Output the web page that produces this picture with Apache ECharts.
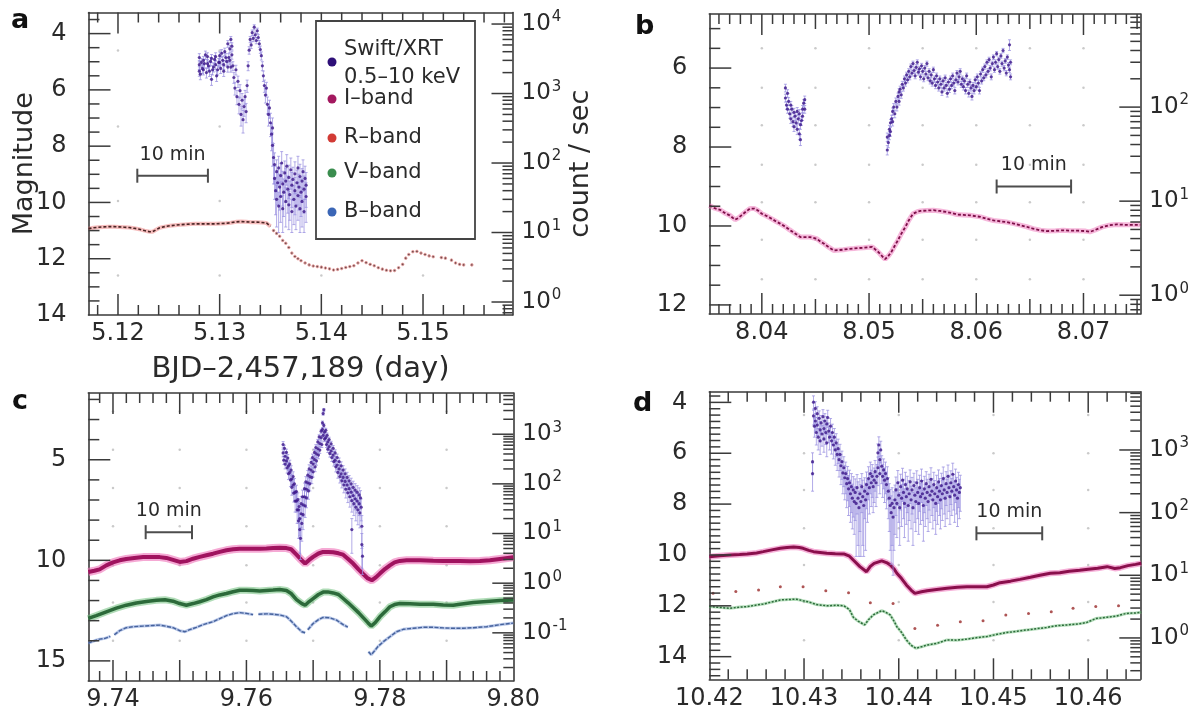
<!DOCTYPE html>
<html>
<head>
<meta charset="utf-8">
<title>Optical and X-ray light curves</title>
<script src="https://cdn.jsdelivr.net/npm/echarts@6.0.0/dist/echarts.min.js"></script>
<style>
html, body { margin: 0; padding: 0; background: #ffffff; }
#chart { width: 1193px; height: 718px; }
</style>
</head>
<body>
<div id="chart"></div>
<script>
// ---------------- text ----------------
const panelLetters = ['a', 'b', 'c', 'd'];
const legendNames = [['Swift/XRT', '0.5–10 keV'], ['I–band'], ['R–band'], ['V–band'], ['B–band']];
const xAxisName = 'BJD–2,457,189 (day)';
const magAxisName = 'Magnitude';
const rateAxisName = 'count / sec';
const scaleBarText = '10 min';
const scaleBarMinutes = 10;

// ---------------- panel a ----------------
// Swift/XRT: [BJD, count/sec, error]
const xrtA = [
  [5.1280,2600,380],[5.1280,3300,450],[5.1280,2100,330],[5.1281,1900,320],[5.1282,2800,400],[5.1283,2300,360],
  [5.1284,3000,420],[5.1284,2200,350],[5.1285,2700,390],[5.1286,3600,480],[5.1287,2000,330],[5.1288,3400,460],
  [5.1288,2700,390],[5.1289,2500,370],[5.1290,2100,340],[5.1291,2900,410],[5.1292,1600,290],[5.1292,3200,440],
  [5.1293,2200,350],[5.1294,2400,360],[5.1295,3100,430],[5.1296,2600,380],[5.1296,3400,460],[5.1297,1800,310],
  [5.1298,2200,350],[5.1299,2800,400],[5.1300,3500,470],[5.1300,2800,400],[5.1301,2300,360],[5.1302,3800,490],
  [5.1303,3000,420],[5.1304,2600,380],[5.1304,2100,340],[5.1305,4000,500],[5.1306,3300,450],[5.1307,2900,410],
  [5.1308,5200,580],[5.1308,2400,370],[5.1309,3300,450],[5.1310,4400,530],[5.1310,3000,420],[5.1311,6000,620],
  [5.1311,2400,370],[5.1312,3600,480],[5.1312,4800,560],[5.1313,2500,370],[5.1314,1700,300],[5.1315,1200,250],
  [5.1316,2200,350],[5.1317,900,210],[5.1318,1500,280],[5.1319,700,190],[5.1320,1100,240],[5.1321,500,160],
  [5.1322,800,200],[5.1323,420,150],[5.1324,650,180],[5.1325,900,210],[5.1326,550,170],[5.1327,1300,260],
  [5.1328,2500,370],[5.1329,4200,520],[5.1330,6000,620],[5.1331,5000,560],[5.1332,7500,700],[5.1333,6200,630],
  [5.1334,9000,760],[5.1335,7000,670],[5.1336,5800,610],[5.1337,8000,720],[5.1338,6400,640],[5.1339,5200,580],
  [5.1340,4300,520],[5.1341,3500,470],[5.1342,2500,370],[5.1343,1800,310],[5.1344,1300,260],[5.1345,950,220],
  [5.1346,1200,250],[5.1347,700,190],[5.1348,500,160],[5.1349,620,180],[5.1350,380,140],[5.1351,260,110],
  [5.1352,320,125],[5.1352,180,90],[5.1353,120,70],
  [5.1354,95,45],[5.1354,60,30],[5.1355,40,22],[5.1356,75,36],[5.1356,30,18],[5.1357,52,27],[5.1358,85,40],
  [5.1358,24,14],[5.1359,45,24],[5.1360,66,33],[5.1360,33,19],[5.1361,100,46],[5.1362,50,26],[5.1362,22,12],
  [5.1363,38,21],[5.1364,72,35],[5.1365,28,16],[5.1365,55,28],[5.1366,90,42],[5.1367,42,23],[5.1368,25,14],
  [5.1368,62,31],[5.1369,35,20],[5.1370,80,38],[5.1371,48,25],[5.1371,20,10],[5.1372,58,29],[5.1373,30,17],
  [5.1374,70,34],[5.1374,40,22],[5.1375,24,13],[5.1376,52,27],[5.1377,85,40],[5.1377,34,19],[5.1378,45,24],
  [5.1379,22,12],[5.1379,64,32],[5.1380,38,21],[5.1381,55,28],[5.1381,28,16],[5.1382,75,36],[5.1383,42,23],
  [5.1383,20,10],[5.1384,60,30],[5.1385,33,19],[5.1385,48,25]
];
// R-band: [BJD, magnitude]
const rBandA = [
  [5.1171,10.93],[5.1176,10.90],[5.1181,10.88],[5.1186,10.87],[5.1191,10.86],[5.1196,10.86],[5.1201,10.87],
  [5.1206,10.88],[5.1211,10.89],[5.1216,10.92],[5.1221,10.95],[5.1226,11.00],[5.1231,11.04],[5.1234,11.04],
  [5.1237,10.98],[5.1241,10.90],[5.1246,10.86],[5.1251,10.83],[5.1256,10.81],[5.1261,10.79],[5.1266,10.78],
  [5.1271,10.77],[5.1276,10.76],[5.1281,10.76],[5.1286,10.76],[5.1291,10.76],[5.1296,10.76],[5.1301,10.75],
  [5.1306,10.74],[5.1311,10.72],[5.1316,10.69],[5.1321,10.68],[5.1326,10.69],[5.1331,10.70],[5.1336,10.70],
  [5.1341,10.71],[5.1346,10.73],[5.1350,10.85]
];
const rBandSparseA = [
  [5.1353,11.00],[5.1356,11.10],[5.1359,11.20],[5.1362,11.35],[5.1365,11.45],[5.1368,11.60],[5.1371,11.80],
  [5.1374,11.92],[5.1377,12.00],[5.1380,12.07],[5.1384,12.15],[5.1388,12.22],[5.1392,12.26],[5.1396,12.28],
  [5.1400,12.30],[5.1404,12.33],[5.1408,12.36],[5.1412,12.40],[5.1416,12.38],[5.1420,12.35],[5.1424,12.31],
  [5.1428,12.28],[5.1432,12.25],[5.1436,12.15],[5.1440,12.07],[5.1444,12.14],[5.1448,12.20],[5.1452,12.25],
  [5.1456,12.32],[5.1460,12.37],[5.1464,12.41],[5.1468,12.43],[5.1472,12.42],[5.1476,12.32],[5.1480,12.20],
  [5.1483,11.98],[5.1486,11.85],[5.1490,11.75],[5.1494,11.74],[5.1498,11.80],[5.1502,11.85],[5.1506,11.90],
  [5.1510,11.93],[5.1518,11.96],[5.1522,11.98],[5.1528,12.05],[5.1532,12.15],[5.1536,12.20],[5.1540,12.22],
  [5.1548,12.22]
];

// ---------------- panel b ----------------
const xrtB = [
  [8.0422,160,15],[8.0422,125,12],[8.0423,105,10],[8.0424,140,13],[8.0424,95,9],[8.0425,115,11],[8.0426,85,9],
  [8.0427,105,10],[8.0427,75,8],[8.0428,95,9],[8.0429,70,8],[8.0430,88,9],[8.0430,62,7],[8.0431,80,8],
  [8.0432,68,7],[8.0433,90,9],[8.0433,58,7],[8.0434,75,8],[8.0435,52,7],[8.0435,85,9],[8.0436,45,6],
  [8.0436,65,7],[8.0437,72,8],[8.0438,95,9],[8.0438,80,8],[8.0439,110,10],[8.0440,120,11],[8.0440,95,9],
  [8.0517,35,4],[8.0517,48,5],[8.0518,42,5],[8.0519,58,6],[8.0519,50,5],[8.0520,68,6],[8.0520,55,6],
  [8.0521,75,7],[8.0522,90,8],[8.0522,70,7],[8.0523,100,9],[8.0524,85,8],[8.0525,115,10],[8.0526,100,9],
  [8.0527,130,11],[8.0528,145,12],[8.0528,115,10],[8.0529,155,12],[8.0530,135,11],[8.0531,175,13],
  [8.0532,160,12],[8.0533,200,14],[8.0534,180,13],[8.0535,220,15],[8.0536,195,14],[8.0537,240,16],
  [8.0538,210,15],[8.0539,270,17],[8.0540,230,16],[8.0541,290,18],[8.0542,245,16],[8.0543,215,15],
  [8.0544,265,17],[8.0545,300,18],[8.0546,235,16],[8.0547,255,16],[8.0548,210,15],[8.0549,275,17],
  [8.0550,240,16],[8.0551,200,14],[8.0552,260,17],[8.0553,225,15],[8.0554,290,18],[8.0555,205,14],
  [8.0556,240,16],[8.0557,190,14],[8.0558,220,15],[8.0559,180,13],[8.0560,250,16],[8.0561,200,14],
  [8.0562,170,13],[8.0563,215,15],[8.0564,185,13],[8.0565,160,12],[8.0566,200,14],[8.0567,175,13],
  [8.0568,145,12],[8.0569,190,14],[8.0570,160,12],[8.0571,205,14],[8.0572,170,13],[8.0573,140,12],
  [8.0574,185,13],[8.0575,155,12],[8.0576,200,14],[8.0577,170,13],[8.0578,215,15],[8.0579,180,13],
  [8.0580,150,12],[8.0581,195,14],[8.0582,230,15],[8.0583,185,13],[8.0584,210,15],[8.0585,240,16],
  [8.0586,175,13],[8.0587,200,14],[8.0588,165,13],[8.0589,190,14],[8.0590,150,12],[8.0591,215,15],
  [8.0592,175,13],[8.0593,140,12],[8.0594,185,13],[8.0595,160,12],[8.0596,130,11],[8.0597,170,13],
  [8.0598,150,12],[8.0599,195,14],[8.0600,165,13],[8.0601,210,15],[8.0602,180,13],[8.0603,150,12],
  [8.0604,225,15],[8.0605,190,14],[8.0606,250,16],[8.0607,205,14],[8.0608,270,17],[8.0609,220,15],
  [8.0610,300,18],[8.0611,240,16],[8.0612,320,19],[8.0613,260,17],[8.0614,210,15],[8.0615,290,18],
  [8.0616,340,19],[8.0617,250,16],[8.0618,300,18],[8.0619,370,20],[8.0620,270,17],[8.0621,320,19],
  [8.0622,240,16],[8.0623,350,20],[8.0624,290,18],[8.0625,400,21],[8.0626,260,17],[8.0627,310,18],
  [8.0628,230,15],[8.0629,340,19],[8.0630,280,17],[8.0631,460,60],[8.0631,250,16],[8.0632,300,18],
  [8.0632,210,15]
];
const iBandB = [
  [8.0351,9.48],[8.0356,9.55],[8.0361,9.59],[8.0366,9.68],[8.0370,9.73],[8.0375,9.84],[8.0378,9.80],
  [8.0381,9.73],[8.0385,9.64],[8.0389,9.56],[8.0393,9.56],[8.0396,9.60],[8.0400,9.69],[8.0404,9.74],
  [8.0408,9.80],[8.0413,9.88],[8.0417,9.94],[8.0422,10.02],[8.0426,10.10],[8.0431,10.19],[8.0436,10.28],
  [8.0441,10.28],[8.0445,10.28],[8.0451,10.32],[8.0455,10.40],[8.0458,10.45],[8.0462,10.53],[8.0467,10.62],
  [8.0472,10.61],[8.0476,10.60],[8.0481,10.58],[8.0486,10.57],[8.0490,10.56],[8.0495,10.55],[8.0499,10.54],
  [8.0503,10.53],[8.0506,10.60],[8.0509,10.67],[8.0512,10.76],[8.0515,10.84],[8.0518,10.76],[8.0521,10.65],
  [8.0524,10.50],[8.0527,10.36],[8.0530,10.20],[8.0534,10.02],[8.0537,9.86],[8.0541,9.69],[8.0545,9.64],
  [8.0548,9.62],[8.0553,9.61],[8.0560,9.60],[8.0566,9.62],[8.0573,9.65],[8.0578,9.68],[8.0582,9.71],
  [8.0588,9.72],[8.0594,9.73],[8.0599,9.75],[8.0604,9.77],[8.0610,9.82],[8.0616,9.86],[8.0622,9.88],
  [8.0628,9.90],[8.0635,9.94],[8.0641,9.98],[8.0647,10.02],[8.0653,10.07],[8.0660,10.11],[8.0666,10.13],
  [8.0674,10.12],[8.0681,10.11],[8.0688,10.12],[8.0695,10.12],[8.0702,10.13],[8.0706,10.15],[8.0711,10.10],
  [8.0717,10.03],[8.0724,9.98],[8.0731,9.96],[8.0738,9.97],[8.0745,9.97],[8.0753,9.97]
];

// ---------------- panel c ----------------
const xrtC = [
  [9.7655,620,90],[9.7655,420,70],[9.7656,300,55],[9.7657,520,80],[9.7658,360,60],[9.7658,250,50],
  [9.7660,430,70],[9.7660,290,55],[9.7661,210,45],[9.7662,330,60],[9.7663,230,45],[9.7663,160,38],
  [9.7665,250,50],[9.7665,170,40],[9.7666,120,32],[9.7667,190,42],[9.7668,125,32],[9.7668,85,26],
  [9.7670,140,35],[9.7670,95,28],[9.7671,65,22],[9.7672,100,28],[9.7673,68,22],[9.7673,45,18],
  [9.7675,70,24],[9.7675,45,18],[9.7676,30,14],[9.7677,48,18],[9.7678,30,14],[9.7678,18,10],
  [9.7679,35,15],[9.7680,20,11],[9.7680,12,8],[9.7681,8,5],[9.7682,40,16],[9.7682,25,12],[9.7683,16,9],
  [9.7684,55,20],[9.7685,38,16],[9.7685,24,12],[9.7687,80,24],[9.7687,55,20],[9.7688,36,15],
  [9.7689,110,30],[9.7690,78,24],[9.7690,52,19],[9.7692,150,36],[9.7692,105,28],[9.7693,72,23],
  [9.7694,200,42],[9.7695,140,34],[9.7695,100,28],[9.7697,270,50],[9.7697,190,40],[9.7698,135,34],
  [9.7699,340,58],[9.7700,250,48],[9.7700,175,38],[9.7702,430,66],[9.7702,310,54],[9.7703,220,44],
  [9.7704,540,75],[9.7705,400,62],[9.7705,290,52],[9.7707,700,85],[9.7707,510,72],[9.7708,380,60],
  [9.7709,880,95],[9.7710,650,80],[9.7710,480,70],[9.7712,1150,110],[9.7712,850,95],[9.7713,620,80],
  [9.7714,1700,140],[9.7714,1250,115],[9.7715,2600,180],[9.7715,950,100],[9.7716,3100,200],
  [9.7716,1500,130],[9.7717,1100,110],[9.7717,800,90],[9.7719,1200,115],[9.7719,850,95],[9.7720,620,80],
  [9.7721,950,100],[9.7722,700,85],[9.7722,500,72],[9.7724,780,90],[9.7724,560,75],[9.7725,410,64],
  [9.7727,640,80],[9.7727,460,68],[9.7728,340,58],[9.7730,520,72],[9.7730,380,62],[9.7731,280,52],
  [9.7733,420,65],[9.7733,300,55],[9.7734,220,46],[9.7736,340,58],[9.7736,240,48],[9.7737,170,40],
  [9.7739,280,52],[9.7739,200,44],[9.7740,140,36],[9.7742,230,48],[9.7742,160,40],[9.7743,115,32],
  [9.7745,190,43],[9.7745,135,36],[9.7746,95,29],[9.7748,160,40],[9.7748,112,32],[9.7749,78,26],
  [9.7751,135,36],[9.7751,95,29],[9.7752,66,24],[9.7754,115,32],[9.7754,80,26],[9.7755,55,21],
  [9.7757,100,30],[9.7757,68,24],[9.7758,46,19],[9.7758,12,8],[9.7760,85,28],[9.7760,58,22],
  [9.7761,40,17],[9.7763,75,26],[9.7763,50,20],[9.7764,34,16],[9.7766,68,24],[9.7766,45,19],
  [9.7767,30,15],[9.7769,60,23],[9.7769,40,17],[9.7770,26,13],[9.7771,52,21],[9.7772,34,16],
  [9.7773,14,9],[9.7773,6,4],[9.7774,3.5,2]
];
const iBandC = [
  [9.7363,10.58],[9.7372,10.52],[9.7380,10.45],[9.7390,10.25],[9.7400,10.10],[9.7410,10.00],[9.7420,9.93],
  [9.7432,9.88],[9.7445,9.84],[9.7458,9.83],[9.7470,9.84],[9.7480,9.88],[9.7490,9.98],[9.7500,10.08],
  [9.7510,10.04],[9.7520,9.92],[9.7530,9.83],[9.7540,9.75],[9.7550,9.67],[9.7560,9.58],[9.7570,9.50],
  [9.7580,9.45],[9.7590,9.42],[9.7600,9.42],[9.7610,9.43],[9.7620,9.42],[9.7630,9.41],[9.7640,9.39],
  [9.7650,9.37],[9.7660,9.39],[9.7667,9.45],[9.7675,9.72],[9.7682,9.97],[9.7688,10.16],[9.7694,9.98],
  [9.7700,9.83],[9.7708,9.66],[9.7715,9.58],[9.7723,9.58],[9.7730,9.60],[9.7738,9.65],[9.7745,9.72],
  [9.7752,9.92],[9.7760,10.16],[9.7768,10.45],[9.7775,10.68],[9.7782,10.90],[9.7788,10.99],[9.7794,10.85],
  [9.7800,10.66],[9.7808,10.42],[9.7815,10.25],[9.7822,10.10],[9.7830,10.03],[9.7840,10.00],[9.7850,10.00],
  [9.7860,10.00],[9.7870,10.01],[9.7880,10.02],[9.7895,10.03],[9.7910,10.03],[9.7920,10.03],[9.7935,10.05],
  [9.7950,10.03],[9.7965,10.00],[9.7980,9.93],[9.8000,9.85]
];
const vBandC = [
  [9.7363,12.89],[9.7375,12.75],[9.7390,12.56],[9.7405,12.38],[9.7420,12.23],[9.7435,12.12],[9.7450,12.05],
  [9.7465,11.99],[9.7478,11.96],[9.7490,12.03],[9.7500,12.15],[9.7510,12.23],[9.7520,12.15],[9.7530,12.06],
  [9.7540,11.95],[9.7550,11.82],[9.7560,11.72],[9.7570,11.65],[9.7580,11.56],[9.7590,11.49],[9.7600,11.49],
  [9.7610,11.50],[9.7620,11.52],[9.7630,11.50],[9.7640,11.48],[9.7650,11.45],[9.7660,11.50],[9.7667,11.65],
  [9.7675,11.95],[9.7683,12.15],[9.7688,12.23],[9.7694,12.05],[9.7700,11.90],[9.7708,11.70],[9.7715,11.58],
  [9.7722,11.57],[9.7730,11.62],[9.7738,11.70],[9.7745,11.90],[9.7752,12.10],[9.7760,12.35],[9.7768,12.60],
  [9.7775,12.85],[9.7782,13.10],[9.7787,13.27],[9.7793,13.10],[9.7800,12.81],[9.7808,12.55],[9.7815,12.31],
  [9.7822,12.20],[9.7830,12.15],[9.7845,12.16],[9.7860,12.18],[9.7880,12.18],[9.7895,12.22],[9.7910,12.23],
  [9.7920,12.18],[9.7940,12.10],[9.7960,12.05],[9.7980,12.00],[9.8000,11.97]
];
// null marks a gap in the B-band coverage
const bBandC = [
  [9.7363,14.12],[9.7372,14.00],[9.7380,13.92],[9.7388,13.88],[9.7396,13.78],null,[9.7402,13.70],
  [9.7410,13.50],[9.7420,13.35],[9.7430,13.30],[9.7445,13.27],[9.7460,13.24],[9.7470,13.22],[9.7480,13.28],
  [9.7490,13.35],[9.7500,13.50],[9.7508,13.55],[9.7515,13.45],[9.7525,13.33],[9.7535,13.20],[9.7550,13.05],
  [9.7560,12.90],[9.7570,12.75],[9.7580,12.65],[9.7590,12.60],[9.7600,12.64],[9.7610,12.70],null,
  [9.7618,12.68],[9.7630,12.66],[9.7640,12.68],[9.7650,12.72],[9.7660,12.80],[9.7668,13.05],[9.7675,13.30],
  [9.7683,13.55],[9.7688,13.60],null,[9.7692,13.45],[9.7700,13.14],[9.7708,12.95],[9.7715,12.84],
  [9.7725,12.86],[9.7735,12.97],[9.7745,13.20],[9.7752,13.32],null,[9.7770,13.96],null,[9.7783,14.55],
  [9.7787,14.70],[9.7792,14.50],[9.7797,14.29],[9.7805,14.05],[9.7815,13.80],[9.7825,13.55],[9.7835,13.43],
  [9.7850,13.38],[9.7865,13.33],[9.7880,13.33],[9.7895,13.36],[9.7910,13.38],[9.7925,13.38],[9.7940,13.35],
  [9.7960,13.30],[9.7980,13.20],[9.8000,13.12]
];

// ---------------- panel d ----------------
const xrtD = [
  [10.4309,650,250],[10.4309,420,200],[10.4310,5800,1500],[10.4310,3500,1000],[10.4311,2400,800],
  [10.4312,4600,1300],[10.4312,2900,900],[10.4313,1900,700],[10.4314,3800,1100],[10.4314,2500,800],
  [10.4315,1600,600],[10.4316,3200,1000],[10.4317,2100,750],[10.4317,1400,550],[10.4318,2700,850],
  [10.4319,1800,650],[10.4320,3400,1000],[10.4321,2200,750],[10.4321,1500,580],[10.4322,2900,900],
  [10.4323,1900,680],[10.4324,2600,820],[10.4324,1300,520],[10.4325,3300,1000],[10.4326,2000,700],
  [10.4327,1600,600],[10.4328,2400,780],[10.4329,1400,540],[10.4330,1900,680],[10.4331,1200,480],
  [10.4332,1600,600],[10.4333,1000,430],[10.4334,1300,520],[10.4335,850,380],[10.4336,1050,440],
  [10.4337,700,330],[10.4338,850,380],[10.4339,560,280],[10.4340,650,310],[10.4341,430,230],
  [10.4342,520,260],[10.4343,360,200],[10.4344,420,220],[10.4345,290,170],[10.4346,350,195],
  [10.4347,240,150],[10.4348,300,175],[10.4349,200,130],[10.4350,260,160],[10.4351,170,115],
  [10.4352,230,145],[10.4353,150,105],[10.4354,210,135],[10.4355,140,120],[10.4356,250,155],
  [10.4357,170,140],[10.4358,120,100],[10.4359,200,150],[10.4360,150,130],[10.4361,260,160],
  [10.4362,180,150],[10.4363,130,110],[10.4364,220,140],[10.4365,160,135],[10.4366,280,165],
  [10.4367,200,130],[10.4368,350,190],[10.4369,250,155],[10.4370,420,220],[10.4371,300,175],
  [10.4372,380,205],[10.4373,260,160],[10.4374,330,185],[10.4375,450,230],[10.4376,300,175],
  [10.4377,380,205],[10.4378,900,350],[10.4378,520,250],[10.4379,1200,420],[10.4380,700,300],
  [10.4380,420,220],[10.4381,1000,380],[10.4382,550,260],[10.4383,380,205],[10.4384,480,240],
  [10.4385,330,185],[10.4386,420,220],[10.4387,280,165],[10.4388,350,190],[10.4389,220,140],
  [10.4390,170,120],[10.4391,130,105],[10.4392,100,85],[10.4393,140,110],[10.4394,85,75],
  [10.4395,120,95],[10.4396,160,115],
  [10.4397,230,140],[10.4398,140,100],[10.4399,300,170],[10.4400,190,120],[10.4401,120,90],
  [10.4402,260,150],[10.4403,170,110],[10.4404,330,180],[10.4405,210,130],[10.4406,140,100],
  [10.4407,280,160],[10.4408,180,115],[10.4409,240,140],[10.4410,130,95],[10.4411,200,125],
  [10.4412,310,170],[10.4413,160,105],[10.4414,230,135],[10.4415,120,90],[10.4416,270,155],
  [10.4417,190,120],[10.4418,150,100],[10.4419,300,165],[10.4420,210,130],[10.4421,140,95],
  [10.4422,250,145],[10.4423,180,115],[10.4424,320,175],[10.4425,200,125],[10.4426,130,95],
  [10.4427,240,140],[10.4428,170,110],[10.4429,290,160],[10.4430,210,130],[10.4431,150,100],
  [10.4432,260,150],[10.4433,190,120],[10.4434,340,180],[10.4435,220,130],[10.4436,160,105],
  [10.4437,280,160],[10.4438,200,125],[10.4439,140,95],[10.4440,250,145],[10.4441,180,115],
  [10.4442,310,170],[10.4443,220,130],[10.4444,160,105],[10.4445,270,155],[10.4446,200,125],
  [10.4447,350,185],[10.4448,230,135],[10.4449,170,110],[10.4450,290,160],[10.4451,210,130],
  [10.4452,380,195],[10.4453,250,145],[10.4454,180,115],[10.4455,300,165],[10.4456,220,130],
  [10.4457,410,205],[10.4458,260,150],[10.4459,190,120],[10.4460,320,175],[10.4461,230,135],
  [10.4462,170,110],[10.4463,280,160],[10.4464,210,130],[10.4465,250,145]
];
const iBandD = [
  [10.4200,10.07],[10.4211,10.03],[10.4222,10.00],[10.4232,9.98],[10.4240,9.96],[10.4250,9.92],[10.4257,9.87],
  [10.4266,9.80],[10.4275,9.74],[10.4282,9.71],[10.4289,9.69],[10.4295,9.71],[10.4299,9.74],[10.4305,9.82],
  [10.4310,9.87],[10.4317,9.90],[10.4324,9.93],[10.4333,9.95],[10.4342,9.96],[10.4348,10.05],[10.4352,10.20],
  [10.4359,10.46],[10.4366,10.66],[10.4370,10.45],[10.4374,10.33],[10.4382,10.23],[10.4387,10.30],
  [10.4391,10.39],[10.4395,10.55],[10.4398,10.72],[10.4403,10.93],[10.4408,11.18],[10.4413,11.38],
  [10.4417,11.51],[10.4424,11.45],[10.4430,11.41],[10.4440,11.36],[10.4451,11.31],[10.4462,11.27],
  [10.4472,11.25],[10.4483,11.25],[10.4493,11.25],[10.4500,11.18],[10.4507,11.09],[10.4518,11.03],
  [10.4528,10.96],[10.4539,10.88],[10.4549,10.80],[10.4560,10.72],[10.4570,10.70],[10.4580,10.64],
  [10.4591,10.60],[10.4600,10.56],[10.4610,10.52],[10.4620,10.46],[10.4628,10.53],[10.4634,10.50],
  [10.4642,10.42],[10.4650,10.37],[10.4656,10.33]
];
const vBandD = [
  [10.4200,12.03],[10.4210,12.06],[10.4222,12.10],[10.4232,12.05],[10.4240,12.03],[10.4250,11.97],
  [10.4257,11.93],[10.4266,11.85],[10.4275,11.77],[10.4284,11.75],[10.4292,11.74],[10.4299,11.80],
  [10.4305,11.85],[10.4313,11.95],[10.4324,12.00],[10.4334,11.98],[10.4342,12.00],[10.4348,12.15],
  [10.4352,12.45],[10.4357,12.60],[10.4364,12.75],[10.4368,12.55],[10.4373,12.36],[10.4382,12.19],
  [10.4386,12.25],[10.4391,12.36],[10.4395,12.60],[10.4398,12.82],[10.4403,13.05],[10.4408,13.34],
  [10.4413,13.55],[10.4418,13.67],[10.4425,13.60],[10.4430,13.54],[10.4440,13.48],[10.4451,13.34],
  [10.4461,13.35],[10.4472,13.31],[10.4483,13.25],[10.4493,13.21],[10.4504,13.12],[10.4514,13.05],
  [10.4525,13.00],[10.4535,12.95],[10.4546,12.90],[10.4556,12.85],[10.4567,12.78],[10.4578,12.75],
  [10.4588,12.72],[10.4598,12.66],[10.4608,12.50],[10.4620,12.45],[10.4630,12.40],[10.4640,12.30],
  [10.4650,12.28],[10.4656,12.25]
];
const rBandD = [
  [10.4204,11.51],[10.4228,11.44],[10.4252,11.38],[10.4275,11.25],[10.4299,11.25],[10.4323,11.41],
  [10.4347,11.49],[10.4370,11.88],[10.4394,11.91],[10.4417,12.89],[10.4441,12.76],[10.4465,12.63],
  [10.4489,12.59],[10.4513,12.36],[10.4537,12.30],[10.4561,12.23],[10.4584,12.10],[10.4608,12.03],
  [10.4632,12.00]
];

// ---------------- layout & style ----------------
const FONT = '"DejaVu Sans", sans-serif';
const AX = '#3a3a3a';
const TXT = '#2a2a2a';
const C = {
  xrtDot: '#3a1488', xrtErr: '#9a90e0',
  iHalo: '#ee6fb8', iCore: '#7d0f48',
  rHalo: '#ee7b7b', rCore: '#4a2424',
  vHalo: '#6fbf7c', vCore: '#2c6a3a',
  bHalo: '#8aa4da', bCore: '#46629c',
  legend: ['#2e0f78', '#a3185f', '#d23b35', '#3a8d4e', '#3b66b6']
};

const panels = [
  { box: [88.5, 12.5, 424, 302.5], x: [5.1171, 5.1588], xSplit: 4, xStep: 0.01, xEvery: 1, xMinor: 5,
    mag: [3.25, 14], magSplit: 5, magStep: 2, magMinor: 4, logExt: [-0.187, 4.166],
    bar: [5.1219, 9.05], dotX: [5.12, 5.13, 5.14, 5.15], dotMag: [4.6, 7.3, 9.95, 12.6] },
  { box: [709.3, 14, 431, 300], x: [8.0351, 8.0753], xSplit: 4, xStep: 0.01, xEvery: 1, xMinor: 10,
    mag: [4.63, 12.23], magSplit: 4, magStep: 2, magMinor: 4, logExt: [-0.2, 2.99],
    bar: [8.0619, 9.0], dotX: [8.04, 8.045, 8.05, 8.055, 8.06, 8.065, 8.07], dotMag: [5.5, 6.5, 7.45, 8.45, 9.4, 10.35, 11.35] },
  { box: [88.3, 393, 425, 288], x: [9.7363, 9.80], xSplit: 6, xStep: 0.01, xEvery: 2, xMinor: 5,
    mag: [1.68, 16.0], magSplit: 3, magStep: 5, magMinor: 5, logExt: [-1.97, 3.83],
    bar: [9.7449, 8.6], dotX: [9.74, 9.75, 9.76, 9.77, 9.78, 9.79], dotMag: [2.6, 4.5, 6.4, 8.3, 10.25, 12.1, 14.0] },
  { box: [709.3, 391.7, 431, 287.6], x: [10.42, 10.4655], xSplit: 4, xStep: 0.01, xEvery: 1, xMinor: 5,
    mag: [3.58, 14.89], magSplit: 5, magStep: 2, magMinor: 8, logExt: [-0.66, 3.93],
    bar: [10.4482, 9.15], dotX: [10.43, 10.44, 10.45, 10.46], dotMag: [4.5, 6.0, 7.45, 8.95, 10.4, 11.85, 13.35] }
];
const letterPos = [[11, 7], [635, 13], [12, 388], [633, 390]];

// ---------------- helpers ----------------
function isMultiple(v, step) {
  const k = v / step;
  return Math.abs(k - Math.round(k)) < 1e-6;
}
function fmtX(step, every) {
  return v => {
    if (!isMultiple(v, step)) return '';
    if (Math.round(v / step) % every !== 0) return '';
    return v.toFixed(2);
  };
}
function fmtMag(step) {
  return v => (isMultiple(v, step) ? String(Math.round(v)) : '');
}
function fmtLog(v) {
  const e = Math.log10(v);
  if (Math.abs(e - Math.round(e)) > 1e-6) return '';
  return '{b|10}{s|' + Math.round(e) + '}';
}
function splitSegments(arr) {
  const out = [[]];
  arr.forEach(d => { if (d === null) out.push([]); else out[out.length - 1].push(d); });
  return out.filter(s => s.length);
}

const xAxes = [], yAxes = [];
const noTick = { show: false };
const frameLine = { show: true, onZero: false, lineStyle: { color: AX, width: 1.6 } };
panels.forEach((p, i) => {
  const xCommon = {
    gridIndex: i, type: 'value', min: p.x[0], max: p.x[1], splitNumber: p.xSplit,
    splitLine: { show: false }, axisLine: frameLine, axisTick: noTick, minorTick: noTick
  };
  xAxes.push(Object.assign({}, xCommon, {
    position: 'bottom',
    axisLabel: { show: true, margin: 7, fontSize: 24, color: TXT, fontFamily: FONT, formatter: fmtX(p.xStep, p.xEvery) },
    name: i === 0 ? xAxisName : '', nameLocation: 'middle', nameGap: 40, nameMoveOverlap: false,
    nameTextStyle: { fontSize: 29, color: TXT, fontFamily: FONT }
  }));
  xAxes.push(Object.assign({}, xCommon, { position: 'top', axisLabel: { show: false } }));

  yAxes.push({
    gridIndex: i, type: 'value', position: 'left', inverse: true,
    min: p.mag[0], max: p.mag[1], splitNumber: p.magSplit,
    splitLine: { show: false }, axisLine: frameLine, axisTick: noTick, minorTick: noTick,
    axisLabel: { show: true, margin: 22, fontSize: 24, color: TXT, fontFamily: FONT, formatter: fmtMag(p.magStep) },
    name: i === 0 ? magAxisName : '', nameLocation: 'middle', nameRotate: 90, nameGap: 50, nameMoveOverlap: false,
    nameTextStyle: { fontSize: 27, color: TXT, fontFamily: FONT }
  });
  yAxes.push({
    gridIndex: i, type: 'log', logBase: 10, position: 'right',
    min: Math.pow(10, p.logExt[0]), max: Math.pow(10, p.logExt[1]),
    splitLine: { show: false }, axisLine: frameLine, axisTick: noTick, minorTick: noTick,
    axisLabel: {
      show: true, margin: 9, formatter: fmtLog,
      rich: {
        b: { fontSize: 23, color: TXT, fontFamily: FONT },
        s: { fontSize: 15, color: TXT, fontFamily: FONT, padding: [0, 0, 13, 1] }
      }
    },
    name: i === 0 ? rateAxisName : '', nameLocation: 'middle', nameRotate: 90, nameGap: 55, nameMoveOverlap: false,
    nameTextStyle: { fontSize: 27, color: TXT, fontFamily: FONT }
  });
});

function axes(i, right) { return { xAxisIndex: 2 * i, yAxisIndex: 2 * i + (right ? 1 : 0) }; }

function band(i, data, halo, core, haloW, coreW, dash, haloOpacity) {
  return [
    Object.assign({ type: 'line', data, symbol: 'none', silent: true, z: 2,
      lineStyle: { color: halo, width: haloW, opacity: haloOpacity } }, axes(i, false)),
    Object.assign({ type: 'line', data, symbol: 'none', silent: true, z: 3,
      lineStyle: { color: core, width: coreW, type: dash } }, axes(i, false))
  ];
}
function dots(i, data, color, size, border) {
  return Object.assign({ type: 'scatter', data, symbolSize: size, silent: true, z: 3,
    itemStyle: { color, borderColor: border || color, borderWidth: border ? 1 : 0 } }, axes(i, false));
}
function errRender(params, api) {
  const x = api.value(0);
  const a = api.coord([x, api.value(2)]);
  const b = api.coord([x, api.value(1)]);
  const st = { stroke: C.xrtErr, lineWidth: 1, opacity: 0.75 };
  return { type: 'group', children: [
    { type: 'line', shape: { x1: a[0], y1: a[1], x2: b[0], y2: b[1] }, style: st },
    { type: 'line', shape: { x1: a[0] - 1.5, y1: a[1], x2: a[0] + 1.5, y2: a[1] }, style: st },
    { type: 'line', shape: { x1: b[0] - 1.5, y1: b[1], x2: b[0] + 1.5, y2: b[1] }, style: st }
  ] };
}
function xray(i, data) {
  const bars = data.map(d => [d[0], Math.max(d[1] - d[2], d[1] * 0.08), d[1] + d[2]]);
  return [
    Object.assign({ type: 'custom', data: bars, renderItem: errRender, silent: true, z: 4, clip: true,
      encode: { x: 0, y: [1, 2] } }, axes(i, true)),
    Object.assign({ type: 'scatter', data: data.map(d => [d[0], d[1]]), symbolSize: 3.2, silent: true, z: 5,
      itemStyle: { color: C.xrtDot } }, axes(i, true))
  ];
}
function scaleBar(i, p) {
  const x0 = p.bar[0], x1 = p.bar[0] + scaleBarMinutes / 1440;
  return Object.assign({ type: 'custom', data: [[x0, x1, p.bar[1]]], silent: true, z: 6, clip: false,
    renderItem: (params, api) => {
      const a = api.coord([api.value(0), api.value(2)]);
      const b = api.coord([api.value(1), api.value(2)]);
      const st = { stroke: '#4d4d4d', lineWidth: 2 };
      return { type: 'group', children: [
        { type: 'line', shape: { x1: a[0], y1: a[1], x2: b[0], y2: b[1] }, style: st },
        { type: 'line', shape: { x1: a[0], y1: a[1] - 7, x2: a[0], y2: a[1] + 7 }, style: st },
        { type: 'line', shape: { x1: b[0], y1: b[1] - 7, x2: b[0], y2: b[1] + 7 }, style: st },
        { type: 'text', x: (a[0] + b[0]) / 2, y: a[1] - 21,
          style: { text: scaleBarText, fill: TXT, font: '19px ' + FONT, align: 'center', verticalAlign: 'middle' } }
      ] };
    } }, axes(i, false));
}
function gridDots(i, p) {
  const data = [];
  p.dotX.forEach(x => p.dotMag.forEach(m => data.push([x, m])));
  return Object.assign({ type: 'scatter', data, symbolSize: 2.5, silent: true, z: 1,
    itemStyle: { color: '#bdbdbd' } }, axes(i, false));
}

// ---------------- series ----------------
const series = [];
panels.forEach((p, i) => { series.push(gridDots(i, p)); });
// a
series.push(...band(0, rBandA, C.rHalo, C.rCore, 4, 1.6, [3, 2], 0.5));
series.push(dots(0, rBandSparseA, C.rCore, 2.6, '#f2a0a0'));
series.push(...xray(0, xrtA));
// b
series.push(...band(1, iBandB, C.iHalo, C.iCore, 5, 1.8, [3, 2], 0.5));
series.push(...xray(1, xrtB));
// c
series.push(...band(2, iBandC, C.iHalo, '#a0135f', 8, 4, 'solid', 0.6));
series.push(...band(2, vBandC, C.vHalo, C.vCore, 7, 3.5, 'solid', 0.55));
splitSegments(bBandC).forEach(seg => series.push(...band(2, seg, C.bHalo, C.bCore, 3, 1.4, [4, 1.5], 0.6)));
series.push(...xray(2, xrtC));
// d
series.push(...band(3, iBandD, C.iHalo, '#8a0f4c', 6, 3, 'solid', 0.55));
series.push(...band(3, vBandD, C.vHalo, C.vCore, 3, 1.5, [2, 1.5], 0.5));
series.push(dots(3, rBandD, '#9a2a2a', 3));
series.push(...xray(3, xrtD));
panels.forEach((p, i) => { series.push(scaleBar(i, p)); });

// ---------------- legend (panel a) ----------------
const legendRows = [62, 99, 138, 173, 212];
const legendEls = [{ type: 'rect', shape: { x: 316, y: 21, width: 159, height: 218 },
  style: { fill: '#ffffff', stroke: '#444444', lineWidth: 1.8 }, z: 100 }];
legendNames.forEach((lines, k) => {
  const cy = legendRows[k];
  legendEls.push({ type: 'circle', shape: { cx: 332, cy, r: 4.5 }, style: { fill: C.legend[k] }, z: 101 });
  lines.forEach((t, j) => {
    const y = lines.length === 1 ? cy : cy + (j === 0 ? -12 : 16);
    legendEls.push({ type: 'text', x: 344, y, z: 101,
      style: { text: t, fill: TXT, font: '21px ' + FONT, verticalAlign: 'middle' } });
  });
});

const option = {
  backgroundColor: '#ffffff',
  animation: false,
  title: panelLetters.map((t, i) => ({ text: t, left: letterPos[i][0], top: letterPos[i][1], padding: 0,
    textStyle: { fontSize: 27, fontWeight: 'bold', color: '#111', fontFamily: FONT } })),
  grid: panels.map(p => ({ left: p.box[0], top: p.box[1], width: p.box[2], height: p.box[3] })),
  xAxis: xAxes,
  yAxis: yAxes,
  series
};

const chart = echarts.init(document.getElementById('chart'), null, { renderer: 'canvas' });
chart.setOption(option);

// ---------------- inward tick marks on all four frame sides ----------------
// Positions come from the chart's own axis scales (convertToPixel).
const tickEls = [];
function tickLine(x1, y1, x2, y2) {
  tickEls.push({ type: 'line', silent: true, z: 50, shape: { x1, y1, x2, y2 },
    style: { stroke: AX, lineWidth: 1.5 } });
}
panels.forEach((p, i) => {
  const px = v => chart.convertToPixel({ xAxisIndex: 2 * i }, v);
  const pm = v => chart.convertToPixel({ yAxisIndex: 2 * i }, v);
  const pl = v => chart.convertToPixel({ yAxisIndex: 2 * i + 1 }, v);
  const left = px(p.x[0]), right = px(p.x[1]);
  const top = pm(p.mag[0]), bottom = pm(p.mag[1]);
  const within = (a, lo, hi) => a > lo + 1 && a < hi - 1;

  // time axis (bottom and mirrored top)
  const xs = p.xStep / p.xMinor;
  for (let n = Math.ceil(p.x[0] / xs - 1e-9); n * xs <= p.x[1] + 1e-12; n++) {
    const v = n * xs, x = px(v);
    if (!within(x, left, right)) continue;
    let len = 10;
    if (isMultiple(v, p.xStep)) len = 21;
    else if (p.xMinor === 10 && n % 5 === 0) len = 15;
    tickLine(x, bottom, x, bottom - len);
    tickLine(x, top, x, top + len);
  }
  // magnitude axis (left)
  const ms = p.magStep / p.magMinor;
  for (let n = Math.ceil(p.mag[0] / ms - 1e-9); n * ms <= p.mag[1] + 1e-12; n++) {
    const v = n * ms, y = pm(v);
    if (!within(y, top, bottom)) continue;
    const len = isMultiple(v, p.magStep) ? 22 : 11;
    tickLine(left, y, left + len, y);
  }
  // count-rate axis (right, logarithmic)
  for (let k = Math.floor(p.logExt[0]); k <= Math.ceil(p.logExt[1]); k++) {
    for (let m = 1; m <= 9; m++) {
      const v = m * Math.pow(10, k), l = Math.log10(v);
      if (l <= p.logExt[0] || l >= p.logExt[1]) continue;
      const y = pl(v);
      if (!within(y, top, bottom)) continue;
      tickLine(right, y, right - (m === 1 ? 21 : 10), y);
    }
  }
});
chart.setOption({ graphic: legendEls.concat(tickEls) });
</script>
</body>
</html>
